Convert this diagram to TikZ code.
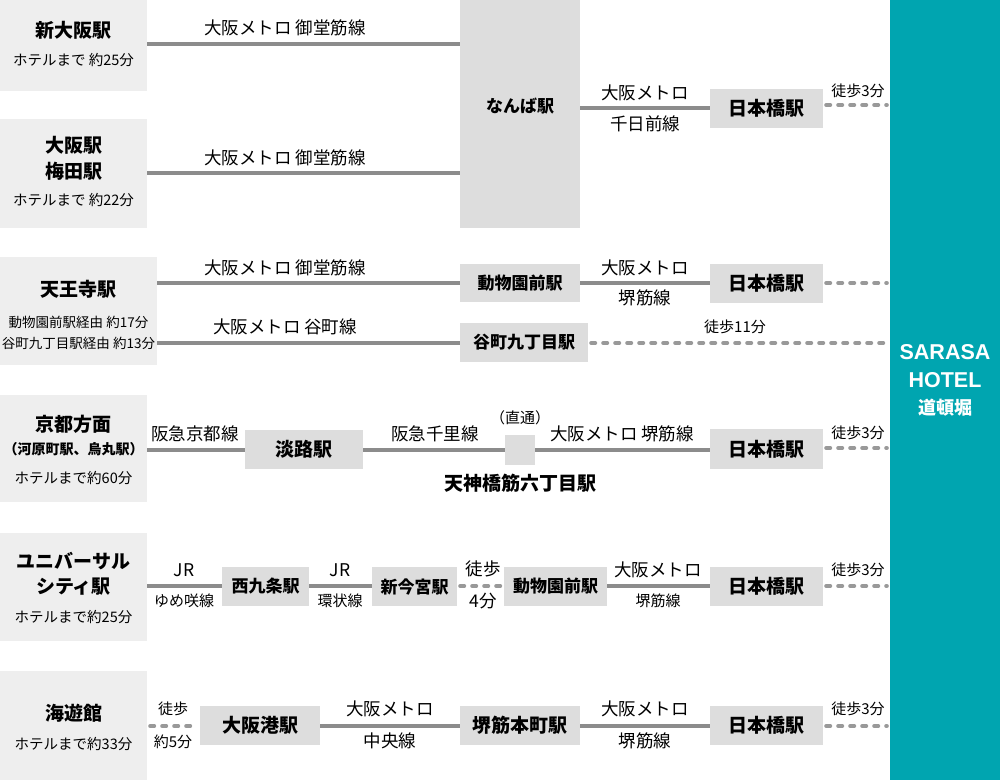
\documentclass[tikz,border=0pt]{standalone}
\usepackage{fontspec}
\setmainfont{Noto Sans CJK JP}
\newfontfamily\latfont{Liberation Sans}
\definecolor{origfill}{HTML}{EEEEEE}
\definecolor{stafill}{HTML}{DDDDDD}
\definecolor{railgray}{HTML}{8C8C8C}
\definecolor{walkgray}{HTML}{999999}
\definecolor{teal}{HTML}{00A5B0}
\tikzset{
 obox/.style={fill=origfill, draw=none, inner sep=0pt},
 sbox/.style={fill=stafill, draw=none, inner sep=0pt},
 bigname/.style={font=\bfseries\fontsize{19}{21}\selectfont, inner sep=0pt},
 midname/.style={font=\bfseries\fontsize{17}{19}\selectfont, inner sep=0pt},
 lab/.style={font=\fontsize{17.5}{19}\selectfont, inner sep=0pt},
 small/.style={font=\fontsize{14.5}{16}\selectfont, inner sep=0pt},
 tiny/.style={font=\fontsize{13.5}{15}\selectfont, inner sep=0pt},
 walk/.style={font=\fontsize{15}{17}\selectfont, inner sep=0pt},
 rail/.style={draw=railgray, line width=4pt},
 walkline/.style={draw=walkgray, line width=4pt, dash pattern=on 4pt off 8pt, line cap=round, shorten <=3pt, shorten >=3pt},
 hoteltext/.style={text=white, inner sep=0pt},
}
\begin{document}
\begin{tikzpicture}[x=1pt,y=-1pt]
\useasboundingbox (0,0) rectangle (1000,780);
\fill[white] (0,0) rectangle (1000,780);

% hotel band
\node[fill=teal, inner sep=0pt, minimum width=110pt, minimum height=780pt] (hotel) at (945,390) {};
\node[hoteltext, font=\latfont\bfseries\fontsize{21.5}{24}\selectfont] (h1) at (945,352) {SARASA};
\node[hoteltext, font=\latfont\bfseries\fontsize{21.5}{24}\selectfont] (h2) at (945,380) {HOTEL};
\node[hoteltext, font=\bfseries\fontsize{18}{20}\selectfont] (h3) at (945,408) {道頓堀};

% ---------- Row 1 & 2 ----------
\node[obox, minimum width=147pt, minimum height=91pt] (o1) at (73.5,45.5) {};
\node[bigname] (o1t) at (73.5,30) {新大阪駅};
\node[small] (o1s) at (73.5,60) {ホテルまで 約25分};

\node[obox, minimum width=147pt, minimum height=109pt] (o2) at (73.5,173.5) {};
\node[bigname] (o2t) at (73.5,145) {大阪駅};
\node[bigname] (o2u) at (73.5,171) {梅田駅};
\node[small] (o2s) at (73.5,200) {ホテルまで 約22分};

\node[sbox, minimum width=120pt, minimum height=228pt] (namba) at (520,114) {};
\node[midname] (nambat) at (520,106) {なんば駅};

\node[sbox, minimum width=113pt, minimum height=39pt] (nip1) at (766.5,108.5) {};
\node[bigname] (nip1t) at (766.5,108.5) {日本橋駅};

\coordinate (y1) at (0,44);
\coordinate (y2) at (0,173);
\coordinate (y1b) at (0,108);
\coordinate (y1c) at (0,105);
\draw[rail] (o1.east |- y1) -- (namba.west |- y1);
\node[lab] (l1) at (285,28) {大阪メトロ 御堂筋線};
\draw[rail] (o2.east |- y2) -- (namba.west |- y2);
\node[lab] (l2) at (285,158) {大阪メトロ 御堂筋線};
\draw[rail] (namba.east |- y1b) -- (nip1.west |- y1b);
\node[lab] (l1b) at (645,93) {大阪メトロ};
\node[lab] (l1c) at (645,124) {千日前線};
\draw[walkline] (nip1.east |- y1c) -- (hotel.west |- y1c);
\node[walk] (w1) at (858,91) {徒歩3分};

% ---------- Row 3 ----------
\node[obox, minimum width=157pt, minimum height=108pt] (o3) at (78.5,311) {};
\node[bigname] (o3t) at (78.5,289) {天王寺駅};
\node[tiny] (o3s) at (78.5,322) {動物園前駅経由 約17分};
\node[tiny] (o3u) at (78.5,343) {谷町九丁目駅経由 約13分};

\node[sbox, minimum width=120pt, minimum height=38pt] (dob3) at (520,283) {};
\node[midname] (dob3t) at (520,283) {動物園前駅};
\node[sbox, minimum width=113pt, minimum height=39pt] (nip3) at (766.5,283.5) {};
\node[bigname] (nip3t) at (766.5,283.5) {日本橋駅};
\node[sbox, minimum width=128pt, minimum height=39pt] (tani) at (524,342.5) {};
\node[midname] (tanit) at (524,342.5) {谷町九丁目駅};

\coordinate (y3) at (0,283);
\coordinate (y3b) at (0,343);
\draw[rail] (o3.east |- y3) -- (dob3.west |- y3);
\node[lab] (l3) at (285,268) {大阪メトロ 御堂筋線};
\draw[rail] (dob3.east |- y3) -- (nip3.west |- y3);
\node[lab] (l3b) at (645,268) {大阪メトロ};
\node[lab] (l3c) at (645,298) {堺筋線};
\draw[walkline] (nip3.east |- y3) -- (hotel.west |- y3);
\draw[rail] (o3.east |- y3b) -- (tani.west |- y3b);
\node[lab] (l3d) at (285,327) {大阪メトロ 谷町線};
\draw[walkline] (tani.east |- y3b) -- (hotel.west |- y3b);
\node[walk] (w3) at (735,327) {徒歩11分};

% ---------- Row 4 ----------
\node[obox, minimum width=147pt, minimum height=107pt] (o4) at (73.5,448.5) {};
\node[bigname] (o4t) at (73.5,424) {京都方面};
\node[font=\bfseries\fontsize{14}{16}\selectfont, inner sep=0pt] (o4u) at (73.5,449) {（河原町駅、烏丸駅）};
\node[small] (o4s) at (73.5,478) {ホテルまで約60分};

\node[sbox, minimum width=118pt, minimum height=39pt] (awaji) at (304,449.5) {};
\node[bigname] (awajit) at (304,449.5) {淡路駅};
\node[sbox, minimum width=30pt, minimum height=30pt] (ten) at (520,450) {};
\node[walk] (ten1) at (520,418) {（直通）};
\node[bigname] (ten2) at (520,483) {天神橋筋六丁目駅};
\node[sbox, minimum width=113pt, minimum height=40pt] (nip4) at (766.5,449) {};
\node[bigname] (nip4t) at (766.5,449) {日本橋駅};

\coordinate (y4) at (0,450);
\coordinate (y4b) at (0,448);
\draw[rail] (o4.east |- y4) -- (awaji.west |- y4);
\node[lab] (l4a) at (195,434) {阪急京都線};
\draw[rail] (awaji.east |- y4) -- (ten.west |- y4);
\node[lab] (l4b) at (435,434) {阪急千里線};
\draw[rail] (ten.east |- y4) -- (nip4.west |- y4);
\node[lab] (l4c) at (622,434) {大阪メトロ 堺筋線};
\draw[walkline] (nip4.east |- y4b) -- (hotel.west |- y4b);
\node[walk] (w4) at (858,433) {徒歩3分};

% ---------- Row 5 ----------
\node[obox, minimum width=147pt, minimum height=108pt] (o5) at (73.5,587) {};
\node[bigname] (o5t) at (73.5,561) {ユニバーサル};
\node[bigname] (o5u) at (73.5,587) {シティ駅};
\node[small] (o5s) at (73.5,617) {ホテルまで約25分};

\node[sbox, minimum width=87pt, minimum height=39pt] (nishi) at (265.5,586.5) {};
\node[midname] (nishit) at (265.5,586.5) {西九条駅};
\node[sbox, minimum width=85pt, minimum height=39pt] (shinima) at (414.5,586.5) {};
\node[midname] (shinimat) at (414.5,586.5) {新今宮駅};
\node[sbox, minimum width=103pt, minimum height=39pt] (dob5) at (555.5,586.5) {};
\node[midname] (dob5t) at (555.5,586.5) {動物園前駅};
\node[sbox, minimum width=113pt, minimum height=39pt] (nip5) at (766.5,586.5) {};
\node[bigname] (nip5t) at (766.5,586.5) {日本橋駅};

\coordinate (y5) at (0,586);
\draw[rail] (o5.east |- y5) -- (nishi.west |- y5);
\node[lab] (l5a) at (184,570) {JR};
\node[walk] (l5b) at (184,601) {ゆめ咲線};
\draw[rail] (nishi.east |- y5) -- (shinima.west |- y5);
\node[lab] (l5c) at (340,570) {JR};
\node[walk] (l5d) at (340,601) {環状線};
\draw[walkline] (shinima.east |- y5) -- (dob5.west |- y5);
\node[lab] (l5e) at (483,569) {徒歩};
\node[lab] (l5f) at (483,601) {4分};
\draw[rail] (dob5.east |- y5) -- (nip5.west |- y5);
\node[lab] (l5g) at (658,570) {大阪メトロ};
\node[walk] (l5h) at (658,601) {堺筋線};
\draw[walkline] (nip5.east |- y5) -- (hotel.west |- y5);
\node[walk] (w5) at (858,570) {徒歩3分};

% ---------- Row 6 ----------
\node[obox, minimum width=147pt, minimum height=109pt] (o6) at (73.5,725.5) {};
\node[bigname] (o6t) at (73.5,713) {海遊館};
\node[small] (o6s) at (73.5,744) {ホテルまで約33分};

\node[sbox, minimum width=120pt, minimum height=39pt] (osakako) at (260,725.5) {};
\node[bigname] (osakakot) at (260,725.5) {大阪港駅};
\node[sbox, minimum width=120pt, minimum height=39pt] (sakai) at (520,725.5) {};
\node[bigname] (sakait) at (520,725.5) {堺筋本町駅};
\node[sbox, minimum width=113pt, minimum height=39pt] (nip6) at (766.5,725.5) {};
\node[bigname] (nip6t) at (766.5,725.5) {日本橋駅};

\coordinate (y6) at (0,726);
\draw[walkline] (o6.east |- y6) -- (osakako.west |- y6);
\node[walk] (l6a) at (173,709) {徒歩};
\node[walk] (l6b) at (173,742) {約5分};
\draw[rail] (osakako.east |- y6) -- (sakai.west |- y6);
\node[lab] (l6c) at (390,709) {大阪メトロ};
\node[lab] (l6d) at (390,741) {中央線};
\draw[rail] (sakai.east |- y6) -- (nip6.west |- y6);
\node[lab] (l6e) at (645,709) {大阪メトロ};
\node[lab] (l6f) at (645,741) {堺筋線};
\draw[walkline] (nip6.east |- y6) -- (hotel.west |- y6);
\node[walk] (w6) at (858,709) {徒歩3分};
\end{tikzpicture}
\end{document}
